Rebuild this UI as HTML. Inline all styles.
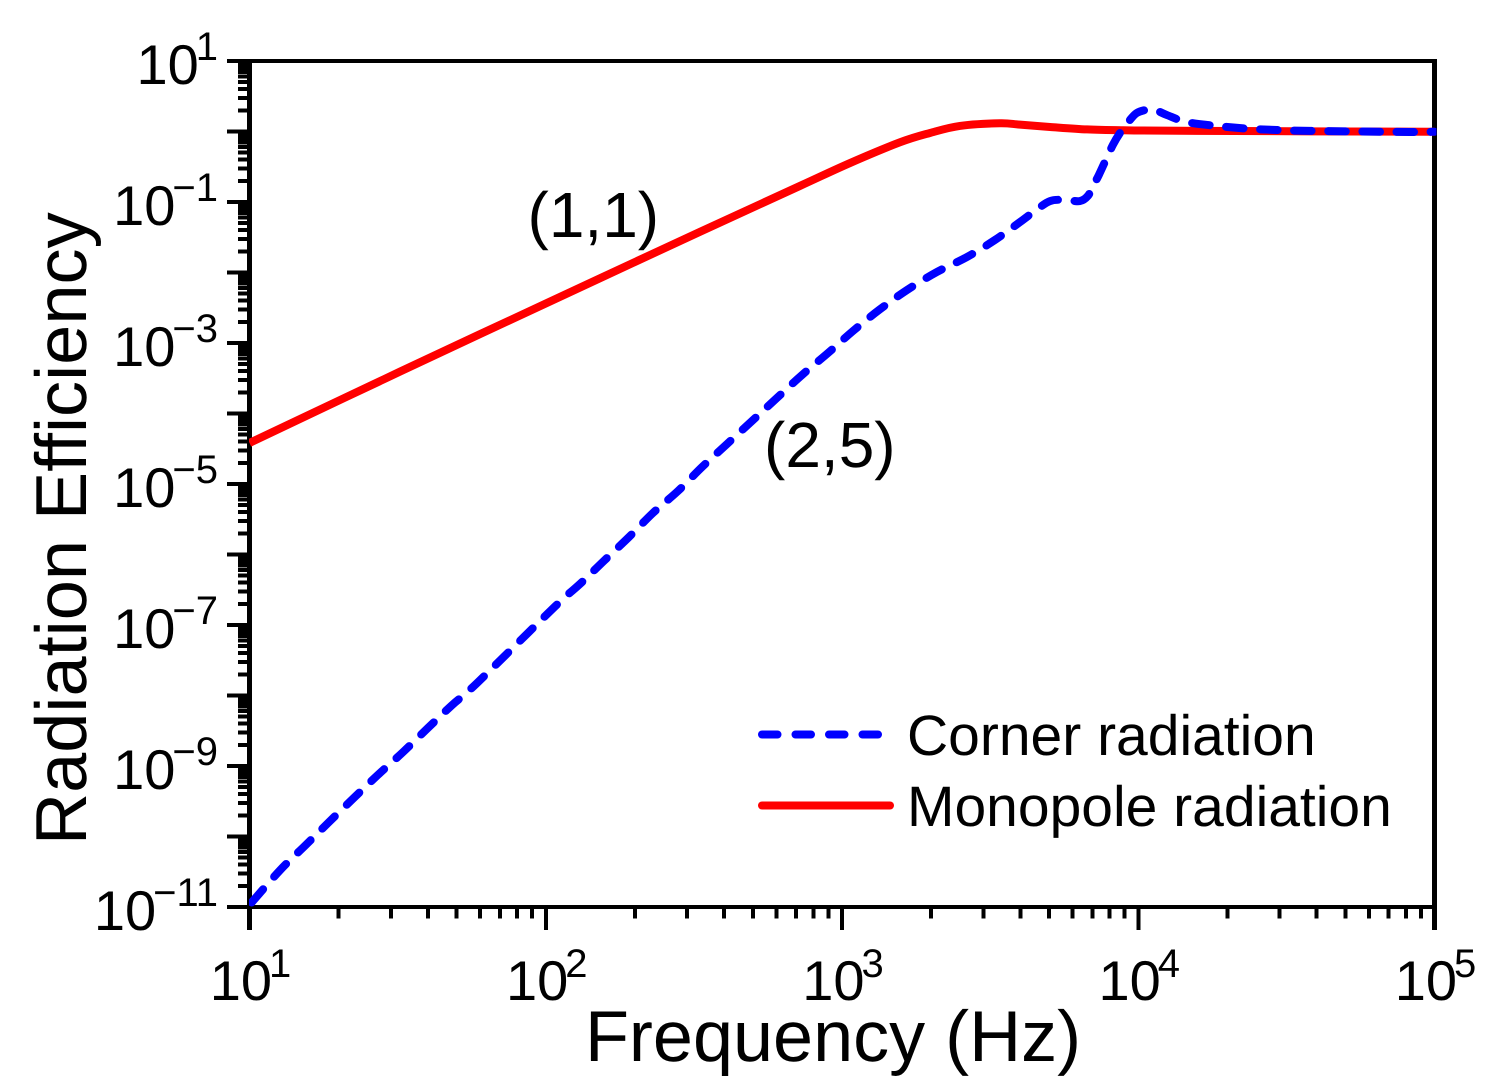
<!DOCTYPE html>
<html>
<head>
<meta charset="utf-8">
<title>Radiation Efficiency vs Frequency</title>
<style>
html,body{margin:0;padding:0;background:#fff;}
svg{display:block;}
text{font-family:"Liberation Sans",Arial,sans-serif;fill:#000;text-rendering:geometricPrecision;}
</style>
</head>
<body>
<svg id="chart" xmlns="http://www.w3.org/2000/svg" width="1494" height="1091" viewBox="0 0 1494 1091">
  <defs>
    <clipPath id="plot-clip"><rect x="249" y="40" width="1187.5" height="870"/></clipPath>
  </defs>
  <rect x="0" y="0" width="1494" height="1091" fill="#fff"/>
  <g id="axes"></g>
  <g id="series" clip-path="url(#plot-clip)"></g>
  <text x="833" y="1061" font-size="72" text-anchor="middle">Frequency (Hz)</text>
  <text transform="translate(86,845) rotate(-90)" font-size="72.2">Radiation Efficiency</text>
  <text x="527.5" y="237" font-size="64">(1,1)</text>
  <text x="764" y="467" font-size="64">(2,5)</text>
  <g>
    <line x1="762" y1="734.5" x2="880" y2="734.5" stroke="#0000ff" stroke-width="8" stroke-linecap="round" stroke-dasharray="15.5 18"/>
    <text x="907" y="755" font-size="57">Corner radiation</text>
    <line x1="762" y1="805.5" x2="890" y2="805.5" stroke="#ff0000" stroke-width="8" stroke-linecap="round"/>
    <text x="907" y="826" font-size="57">Monopole radiation</text>
  </g>
</svg>
<script>
// Chart data
const xTickExponents = [1, 2, 3, 4, 5];
const yTickExponents = [1, -1, -3, -5, -7, -9, -11];
const cornerFrequency = [10, 12.7, 15.4, 18.4, 22.3, 27.1, 33.0, 40.0, 48.3, 58.6, 107, 130.5, 157, 191, 230, 279.5, 337, 409, 497, 603, 733, 897, 1089, 1334, 1658, 2094, 2642, 3281, 3990, 4477, 5035, 5662, 6353, 6761, 7031, 7362, 8209, 8810, 9376, 9886, 10620, 11380, 12500, 14590, 18400, 23280, 29380, 37930, 82400, 100000];
const cornerEfficiency = [1.07e-11, 3.35e-11, 7.41e-11, 1.55e-10, 3.40e-10, 7.45e-10, 1.58e-9, 3.46e-9, 7.33e-9, 1.50e-8, 1.80e-7, 3.82e-7, 8.09e-7, 1.77e-6, 3.88e-6, 7.96e-6, 1.74e-5, 3.69e-5, 7.83e-5, 1.66e-4, 3.52e-4, 7.21e-4, 1.48e-3, 2.94e-3, 5.65e-3, 1.02e-2, 1.66e-2, 2.89e-2, 5.20e-2, 7.45e-2, 0.103, 0.107, 0.103, 0.122, 0.169, 0.242, 0.644, 1.05, 1.46, 1.83, 2.02, 2.02, 1.71, 1.36, 1.20, 1.10, 1.05, 1.02, 0.984, 0.993];
const monopoleFrequency = [10, 32.2, 103, 332, 721, 1064, 1570, 1982, 2500, 3413, 3990, 5035, 6714, 8890, 15800, 100000];
const monopoleEfficiency = [3.82e-5, 3.92e-4, 3.85e-3, 3.79e-2, 0.169, 0.357, 0.703, 0.953, 1.20, 1.31, 1.25, 1.16, 1.07, 1.04, 1.02, 0.993];

// Axis domain and range
const xMinExp = 1, xMaxExp = 5, xLeft = 249.5, xRight = 1434.5;
const yMinExp = -11, yMaxExp = 1, yBottom = 907, yTop = 61;
function xPos(f) { return xLeft + (Math.log10(f) - xMinExp) / (xMaxExp - xMinExp) * (xRight - xLeft); }
function yPos(v) { return yBottom - (Math.log10(v) - yMinExp) / (yMaxExp - yMinExp) * (yBottom - yTop); }

const NS = 'http://www.w3.org/2000/svg';
const axes = document.getElementById('axes');
const series = document.getElementById('series');

function addLine(parent, x1, y1, x2, y2, width) {
  const l = document.createElementNS(NS, 'line');
  l.setAttribute('x1', x1);
  l.setAttribute('y1', y1);
  l.setAttribute('x2', x2);
  l.setAttribute('y2', y2);
  l.setAttribute('stroke', '#000');
  l.setAttribute('stroke-width', width);
  l.setAttribute('shape-rendering', 'crispEdges');
  parent.appendChild(l);
  return l;
}

function addPowerLabel(x, y, supY, anchor, exponent) {
  const t = document.createElementNS(NS, 'text');
  t.setAttribute('x', x);
  t.setAttribute('y', y);
  t.setAttribute('font-size', '56');
  t.setAttribute('text-anchor', anchor);
  t.appendChild(document.createTextNode('10'));
  const s = document.createElementNS(NS, 'tspan');
  s.setAttribute('font-size', '40');
  s.setAttribute('dy', supY - y);
  s.setAttribute('dx', '-3');
  s.textContent = String(exponent).replace('-', '\u2212');
  t.appendChild(s);
  axes.appendChild(t);
  return t;
}

// Spines
const spineLeft = addLine(axes, 249.5, 59, 249.5, 930, 5);


const spineBottom = addLine(axes, 247, 907, 1437, 907, 4);


const spineTop = addLine(axes, 227, 61, 1437, 61, 4);


const spineRight = addLine(axes, 1434.5, 59, 1434.5, 930, 5);



// X ticks
for (let e = xMinExp; e <= xMaxExp; e++) {
  const p = Math.pow(10, e);
  if (e < xMaxExp) {
    for (let m = 2; m <= 9; m++) {
      const mx = xPos(m * p);
      const minor = addLine(axes, mx, 907, mx, 918.7, 4);
      
      
    }
  }
  const mx = xPos(p);
  const major = addLine(axes, mx, 907, mx, 930, 4);
  
  
}
xTickExponents.forEach(function (e) {
  const label = addPowerLabel(xPos(Math.pow(10, e)) + 1, 1000, 977, 'middle', e);
  
  
});

// Y ticks
for (let e = yMinExp; e <= yMaxExp; e++) {
  const p = Math.pow(10, e);
  if (e < yMaxExp) {
    for (let m = 2; m <= 9; m++) {
      const my = yPos(m * p);
      const minor = addLine(axes, 238, my, 249, my, 4);
      
      
    }
  }
  const my = yPos(p);
  const major = addLine(axes, 227, my, 249, my, 4);
  
  
}
yTickExponents.forEach(function (e) {
  const ty = yPos(Math.pow(10, e));
  const label = addPowerLabel(218, ty + 23, ty - 1, 'end', e);
  
  
});

// Smooth curve through the data points (Catmull-Rom in pixel space)
function buildPath(xs, ys) {
  const pts = xs.map(function (f, i) { return [xPos(f), yPos(ys[i])]; });
  let d = 'M' + pts[0][0].toFixed(2) + ' ' + pts[0][1].toFixed(2);
  for (let i = 0; i < pts.length - 1; i++) {
    const p0 = pts[Math.max(i - 1, 0)];
    const p1 = pts[i];
    const p2 = pts[i + 1];
    const p3 = pts[Math.min(i + 2, pts.length - 1)];
    const c1x = p1[0] + (p2[0] - p0[0]) / 6;
    const c1y = p1[1] + (p2[1] - p0[1]) / 6;
    const c2x = p2[0] - (p3[0] - p1[0]) / 6;
    const c2y = p2[1] - (p3[1] - p1[1]) / 6;
    d += ' C' + c1x.toFixed(2) + ' ' + c1y.toFixed(2) + ' ' + c2x.toFixed(2) + ' ' + c2y.toFixed(2) + ' ' + p2[0].toFixed(2) + ' ' + p2[1].toFixed(2);
  }
  return d;
}

// Series
const monopolePath = document.createElementNS(NS, 'path');
monopolePath.setAttribute('d', buildPath(monopoleFrequency, monopoleEfficiency));
monopolePath.setAttribute('fill', 'none');
monopolePath.setAttribute('stroke', '#ff0000');
monopolePath.setAttribute('stroke-width', '8');
monopolePath.setAttribute('stroke-linejoin', 'round');


series.appendChild(monopolePath);

const cornerPath = document.createElementNS(NS, 'path');
cornerPath.setAttribute('d', buildPath(cornerFrequency, cornerEfficiency));
cornerPath.setAttribute('fill', 'none');
cornerPath.setAttribute('stroke', '#0000ff');
cornerPath.setAttribute('stroke-width', '8');
cornerPath.setAttribute('stroke-linejoin', 'round');
cornerPath.setAttribute('stroke-linecap', 'round');
cornerPath.setAttribute('stroke-dasharray', '17.5 16.6');
cornerPath.setAttribute('stroke-dashoffset', '-3.3');


series.appendChild(cornerPath);
</script>
</body>
</html>
